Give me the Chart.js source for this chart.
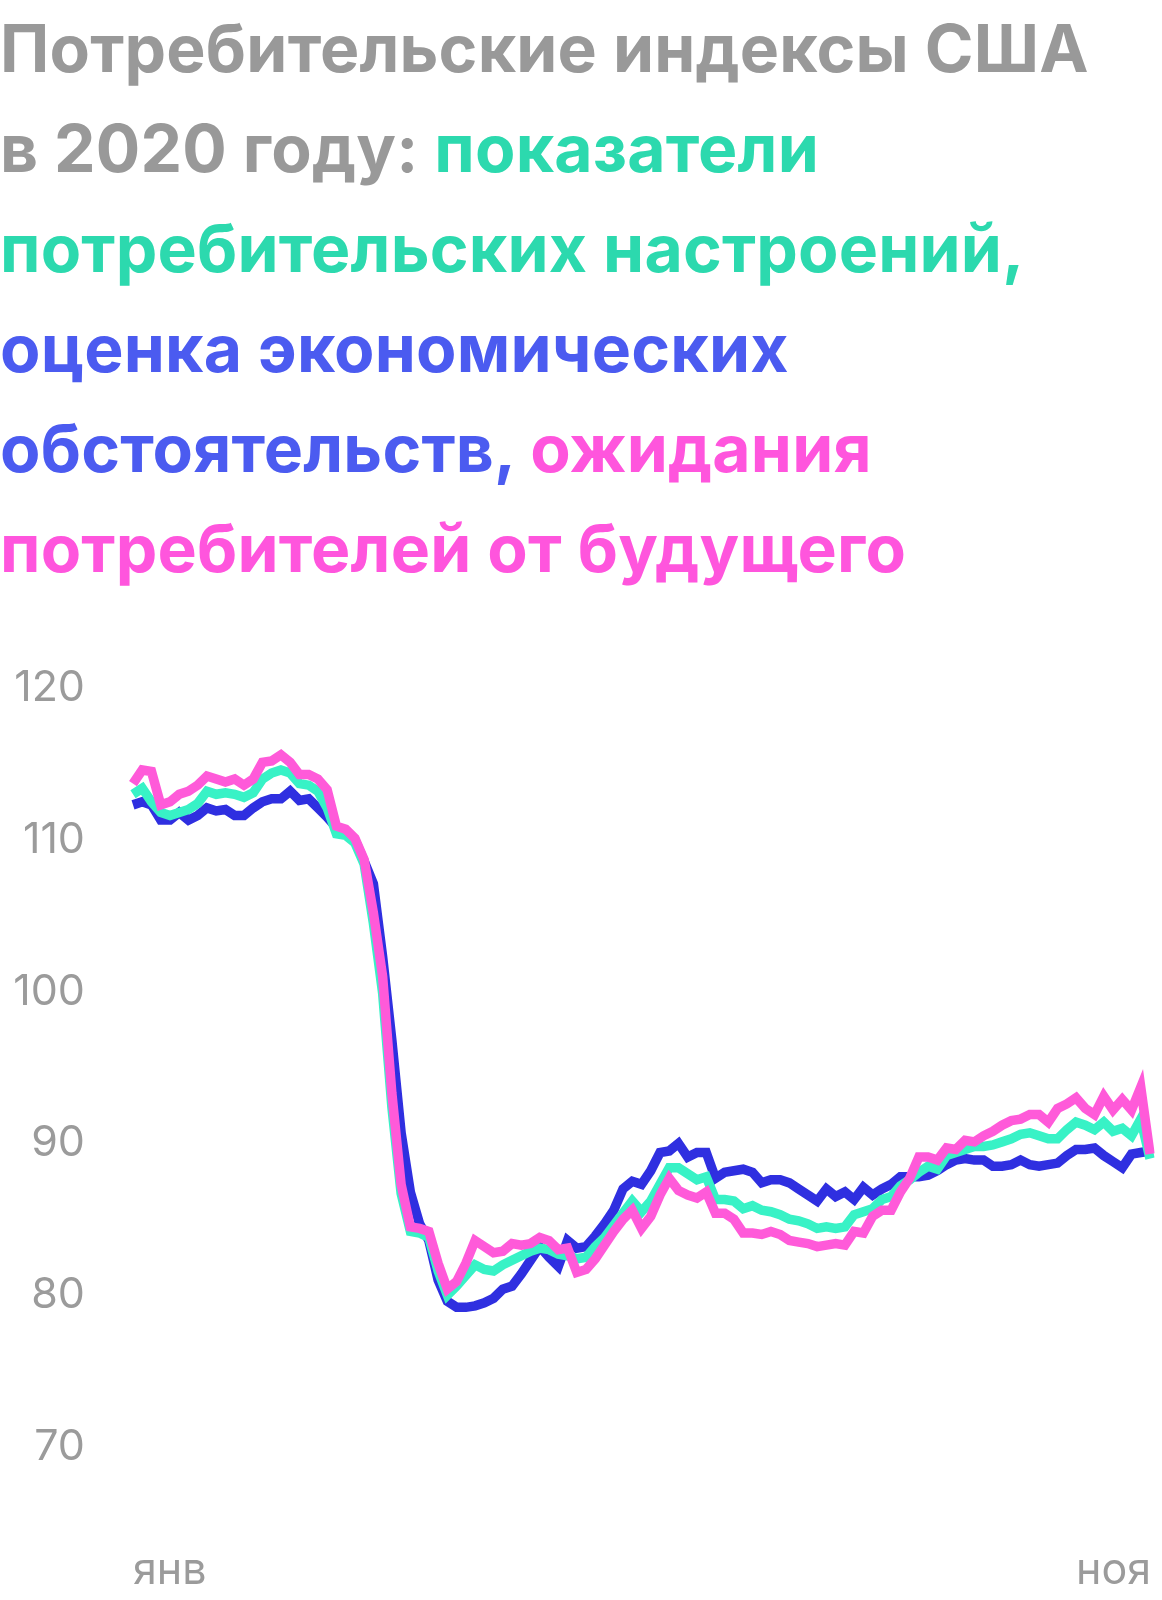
<!DOCTYPE html>
<html lang="ru">
<head>
<meta charset="utf-8">
<script src="https://cdn.jsdelivr.net/npm/chart.js@4.4.1/dist/chart.umd.min.js"></script>
<style>
  html, body { margin: 0; padding: 0; background: #ffffff; }
  body { width: 1162px; height: 1600px; position: relative; overflow: hidden; }
  #title {
    position: absolute; left: 0; top: -2px; margin: 0; z-index: 2;
    font-family: Inter, "Noto Sans", sans-serif; font-weight: 700;
    font-size: 66px; line-height: 100px; color: #999999; white-space: nowrap;
    letter-spacing: 0.2px;
  }
  .g { color: #999999; }
  .t { color: #2cd9ae; }
  .b { color: #4b5bf0; }
  .p { color: #ff55dd; }
  #wrap { position: absolute; left: 0; top: 0; width: 1162px; height: 1600px; z-index: 1; }
</style>
</head>
<body>
<h1 id="title"><span class="g">Потребительские индексы США</span><br><span class="g">в 2020 году: </span><span class="t">показатели</span><br><span class="t">потребительских настроений,</span><br><span class="b">оценка экономических</span><br><span class="b">обстоятельств,</span> <span class="p">ожидания</span><br><span class="p">потребителей от будущего</span></h1>
<div id="wrap"><canvas id="c" width="1162" height="1600"></canvas></div>
<script>
// Categories: sampled dates of 2020 (every third day)
const dates = ['01.01','04.01','07.01','10.01','13.01','16.01','19.01','22.01','25.01','28.01',
  '31.01','03.02','06.02','09.02','12.02','15.02','18.02','21.02','24.02','27.02',
  '01.03','04.03','07.03','10.03','13.03','16.03','19.03','22.03','25.03','28.03',
  '31.03','03.04','06.04','09.04','12.04','15.04','18.04','21.04','24.04','27.04',
  '30.04','03.05','06.05','09.05','12.05','15.05','18.05','21.05','24.05','27.05',
  '30.05','02.06','05.06','08.06','11.06','14.06','17.06','20.06','23.06','26.06',
  '29.06','02.07','05.07','08.07','11.07','14.07','17.07','20.07','23.07','26.07',
  '29.07','01.08','04.08','07.08','10.08','13.08','16.08','19.08','22.08','25.08',
  '28.08','31.08','03.09','06.09','09.09','12.09','15.09','18.09','21.09','24.09',
  '27.09','30.09','03.10','06.10','09.10','12.10','15.10','18.10','21.10','24.10',
  '27.10','30.10','02.11','05.11','08.11','11.11','14.11','17.11','20.11','23.11',
  '26.11'];

// Consumer sentiment (teal)
const sentiment = [113.0,113.4,112.5,111.8,111.6,111.8,112.0,112.4,113.2,113.0,
  113.1,113.0,112.8,113.1,114.0,114.4,114.6,114.4,113.7,113.6,
  113.2,112.1,110.4,110.3,109.8,108.4,104.5,99.9,92.4,86.7,
  84.2,84.1,83.8,81.6,80.0,80.6,81.3,82.0,81.7,81.6,
  82.0,82.3,82.6,82.9,83.1,83.0,82.7,82.6,82.4,82.5,
  83.2,83.8,84.6,85.4,86.2,85.5,86.2,87.3,88.4,88.4,
  88.0,87.6,87.8,86.3,86.3,86.2,85.7,85.9,85.6,85.5,
  85.3,85.0,84.9,84.7,84.4,84.5,84.4,84.5,85.3,85.5,
  85.7,86.3,86.5,87.2,87.6,88.1,88.5,88.3,89.2,89.4,
  89.6,89.8,89.8,89.9,90.1,90.3,90.6,90.7,90.5,90.3,
  90.3,90.9,91.4,91.2,90.9,91.4,90.8,91.0,90.5,91.6,
  89.0];

// Current economic conditions (blue)
const conditions = [112.3,112.5,112.3,111.3,111.3,111.8,111.3,111.6,112.1,111.9,
  112.0,111.6,111.6,112.1,112.5,112.7,112.7,113.2,112.6,112.7,
  112.1,111.5,110.8,110.4,110.0,108.6,107.1,102.3,96.8,90.7,
  86.8,84.7,83.6,81.0,79.6,79.2,79.2,79.3,79.5,79.8,
  80.4,80.6,81.4,82.3,83.2,82.5,81.9,83.6,83.1,83.2,
  83.9,84.7,85.6,87.0,87.5,87.3,88.2,89.4,89.5,90.0,
  89.1,89.4,89.4,87.7,88.1,88.2,88.3,88.1,87.4,87.6,
  87.6,87.4,87.0,86.6,86.2,87.0,86.5,86.8,86.3,87.1,
  86.6,87.0,87.3,87.8,87.8,87.8,87.9,88.2,88.6,88.9,
  89.0,88.9,88.9,88.5,88.5,88.6,88.9,88.6,88.5,88.6,
  88.7,89.2,89.6,89.6,89.7,89.2,88.8,88.4,89.3,89.4,
  89.5];

// Consumer expectations (pink)
const expectations = [113.7,114.6,114.5,112.3,112.5,113.0,113.2,113.6,114.2,114.0,
  113.8,114.0,113.6,114.0,115.1,115.2,115.6,115.1,114.3,114.3,
  114.0,113.3,110.9,110.7,110.1,108.7,105.2,101.0,93.3,87.3,
  84.5,84.4,84.2,82.1,80.4,80.9,82.1,83.6,83.2,82.8,
  82.9,83.4,83.3,83.4,83.8,83.6,83.0,83.1,81.5,81.7,
  82.4,83.3,84.2,85.0,85.6,84.4,85.2,86.6,87.7,86.9,
  86.6,86.4,86.8,85.4,85.4,85.0,84.1,84.1,84.0,84.2,
  84.0,83.6,83.5,83.4,83.2,83.3,83.4,83.3,84.2,84.1,
  85.2,85.6,85.6,86.8,87.7,89.1,89.1,88.9,89.7,89.6,
  90.2,90.1,90.5,90.8,91.2,91.5,91.6,91.9,91.9,91.4,
  92.3,92.6,93.0,92.3,91.9,93.1,92.2,92.9,92.2,93.7,
  89.3];

// Axis labels
const monthLabels = ['янв', 'ноя'];
const monthDates = ['01.01', '02.11'];
const yMin = 70, yMax = 120, yStep = 10;

const monthIdx = monthDates.map(d => dates.indexOf(d));
const tickFont = { family: 'Inter, "Noto Sans", sans-serif', size: 43, weight: '400' };
const tickColor = '#9b9b9b';

new Chart(document.getElementById('c'), {
  type: 'line',
  data: {
    labels: dates,
    datasets: [
      { label: 'ожидания потребителей от будущего', data: expectations, borderColor: '#ff5ad9', order: 0 },
      { label: 'показатели потребительских настроений', data: sentiment, borderColor: '#38f2c6', order: 1 },
      { label: 'оценка экономических обстоятельств', data: conditions, borderColor: '#2f2fe0', order: 2 }
    ].map(ds => Object.assign(ds, { borderWidth: 9.5, pointRadius: 0, tension: 0, fill: false }))
  },
  options: {
    responsive: false,
    animation: false,
    devicePixelRatio: 1,
    layout: { padding: { top: 688, left: 0, right: 12, bottom: 0 } },
    plugins: { legend: { display: false }, tooltip: { enabled: false }, title: { display: false } },
    scales: {
      x: {
        type: 'category',
        grid: { display: false, drawTicks: false },
        border: { display: false },
        ticks: {
          autoSkip: false, maxRotation: 0, minRotation: 0, align: 'start',
          padding: 98, color: tickColor, font: tickFont,
          callback: function (value) { const k = monthIdx.indexOf(value); return k >= 0 ? monthLabels[k] : ''; }
        },
        afterBuildTicks: s => { s.ticks = s.ticks.filter(t => monthIdx.includes(t.value)); },
        afterFit: s => { s.height = 153; s.paddingLeft = 0; s.paddingRight = 0; }
      },
      y: {
        min: yMin, max: yMax,
        grid: { display: false, drawTicks: false },
        border: { display: false },
        ticks: { stepSize: yStep, padding: 48, color: tickColor, font: tickFont, crossAlign: 'near' },
        afterFit: s => { s.width = 133; s.paddingTop = 0; s.paddingBottom = 0; }
      }
    }
  }
});
</script>
</body>
</html>
